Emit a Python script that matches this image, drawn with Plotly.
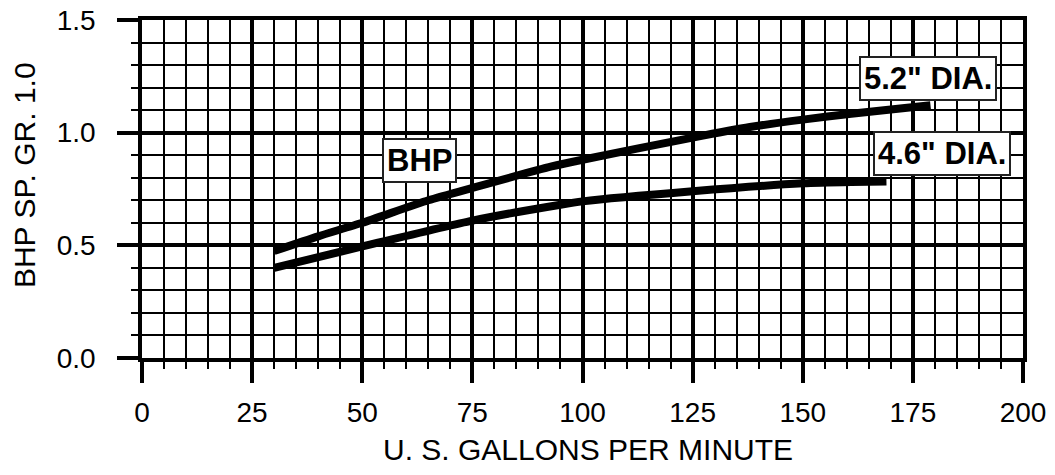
import plotly.graph_objects as go

# Data
gpm_52 = [30, 40, 50, 65, 75, 93, 100, 125, 138, 150, 161, 179]
bhp_52 = [0.475, 0.54, 0.60, 0.70, 0.755, 0.85, 0.88, 0.978, 1.025, 1.058, 1.084, 1.122]

gpm_46 = [30, 50, 75, 95, 100, 125, 150, 161, 169]
bhp_46 = [0.40, 0.495, 0.61, 0.68, 0.695, 0.74, 0.775, 0.781, 0.783]

x_ticks = [0, 25, 50, 75, 100, 125, 150, 175, 200]
y_ticks = [0.0, 0.5, 1.0, 1.5]
y_tick_text = ["0.0", "0.5", "1.0", "1.5"]

labels = [
    {"text": "BHP", "x": 63.1, "y": 0.876},
    {"text": "5.2\" DIA.", "x": 178.5, "y": 1.24},
    {"text": "4.6\" DIA.", "x": 181.5, "y": 0.907},
]

x_title = "U. S. GALLONS PER MINUTE"
y_title = "BHP SP. GR. 1.0"

FONT = "Liberation Sans, Arial, sans-serif"

fig = go.Figure()
fig.add_trace(go.Scatter(x=gpm_52, y=bhp_52, mode="lines",
                         line=dict(color="black", width=8, shape="spline", smoothing=0.6),
                         hoverinfo="skip", showlegend=False))
fig.add_trace(go.Scatter(x=gpm_46, y=bhp_46, mode="lines",
                         line=dict(color="black", width=8, shape="spline", smoothing=0.6),
                         hoverinfo="skip", showlegend=False))

for lb in labels:
    fig.add_annotation(x=lb["x"], y=lb["y"], xref="x", yref="y", text="<b>%s</b>" % lb["text"],
                       showarrow=False, font=dict(family=FONT, size=31, color="black"),
                       bgcolor="white", bordercolor="#222", borderwidth=2, borderpad=3)

fig.add_annotation(text=x_title, xref="paper", yref="paper", x=0.506, y=-0.272,
                   xanchor="center", yanchor="middle", showarrow=False,
                   font=dict(family=FONT, size=30, color="black"))
fig.add_annotation(text=y_title, xref="paper", yref="paper", x=-0.134, y=0.541,
                   xanchor="center", yanchor="middle", showarrow=False, textangle=-90,
                   font=dict(family=FONT, size=30, color="black"))

fig.update_layout(
    width=1055, height=475,
    margin=dict(l=142, r=32, t=20, b=117),
    paper_bgcolor="white", plot_bgcolor="white",
    font=dict(family=FONT, size=28, color="black"),
)

fig.update_xaxes(
    range=[0, 200], tickvals=x_ticks, ticks="outside", ticklen=21, tickwidth=3.5, tickcolor="black",
    showgrid=True, gridcolor="black", gridwidth=3.5, zeroline=False,
    showline=True, linecolor="black", linewidth=3.5, mirror=True, automargin=False,
    tickfont=dict(size=28), ticklabelstandoff=6, ticklabeloverflow="allow",
    minor=dict(dtick=5, ticks="outside", ticklen=7, tickwidth=2, tickcolor="black",
               showgrid=True, gridcolor="black", gridwidth=2),
    fixedrange=True,
)
fig.update_yaxes(
    range=[0, 1.5], tickvals=y_ticks, ticktext=y_tick_text, ticks="outside", ticklen=21, tickwidth=3.5,
    tickcolor="black",
    showgrid=True, gridcolor="black", gridwidth=3.5, zeroline=False,
    showline=True, linecolor="black", linewidth=3.5, mirror=True, automargin=False,
    tickfont=dict(size=28), ticklabelstandoff=16, ticklabeloverflow="allow",
    minor=dict(dtick=0.1, ticks="outside", ticklen=7, tickwidth=2, tickcolor="black",
               showgrid=True, gridcolor="black", gridwidth=2),
    fixedrange=True,
)

# remove the page's default 8px body margin so the figure fills the window exactly
fig.write_html("out.html", config={"displayModeBar": False},
               post_script="document.body.style.margin='0';")
